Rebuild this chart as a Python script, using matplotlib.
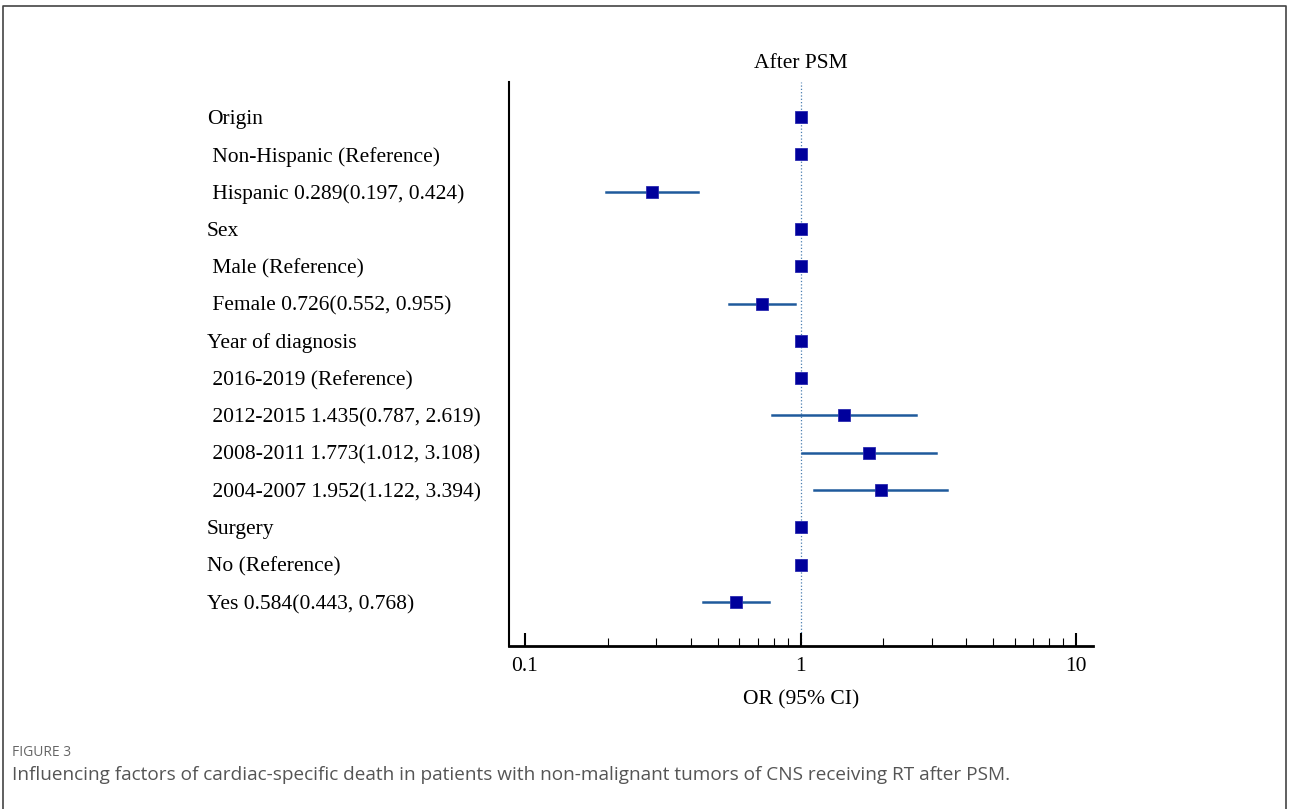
import numpy as np
import matplotlib.pyplot as plt
import matplotlib.transforms as mtransforms
from matplotlib.lines import Line2D
from matplotlib.ticker import FixedLocator, NullFormatter

# datos del forest plot (después de PSM)
labels = ["Origin",
          " Non-Hispanic (Reference)",
          " Hispanic 0.289(0.197, 0.424)",
          "Sex",
          " Male (Reference)",
          " Female 0.726(0.552, 0.955)",
          "Year of diagnosis",
          " 2016-2019 (Reference)",
          " 2012-2015 1.435(0.787, 2.619)",
          " 2008-2011 1.773(1.012, 3.108)",
          " 2004-2007 1.952(1.122, 3.394)",
          "Surgery",
          "No (Reference)",
          "Yes 0.584(0.443, 0.768)"]
OR    = [1, 1, 0.289, 1, 1, 0.726, 1, 1, 1.435, 1.773, 1.952, 1, 1, 0.584]
CI_lo = [np.nan, np.nan, 0.197, np.nan, np.nan, 0.552, np.nan, np.nan, 0.787, 1.012, 1.122, np.nan, np.nan, 0.443]
CI_hi = [np.nan, np.nan, 0.424, np.nan, np.nan, 0.955, np.nan, np.nan, 2.619, 3.108, 3.394, np.nan, np.nan, 0.768]

serif = 'Liberation Serif'
W, H = 1290, 809

fig = plt.figure(figsize=[W/100, H/100], dpi=100)
ax = fig.add_axes([509/W, 1-646/H, (1093-509)/W, (646-82)/H])

y = np.arange(1, len(labels)+1)

# línea de referencia en OR = 1
ax.axvline(1, color='#4a7fb0', linestyle=':', linewidth=0.9, zorder=1)

# intervalos de confianza
for yi, lo, hi in zip(y, CI_lo, CI_hi):
    if not np.isnan(lo):
        ax.plot([lo, hi], [yi, yi], '-', color='#1f5a9c', linewidth=1.8, zorder=2)

ax.plot(OR, y, 's', color='#00009c', markeredgecolor='#2a2ab0',
        markeredgewidth=0.6, markersize=8.6, zorder=3)

ax.set_xscale('log')
ax.set_xlim(10**(-1-16/275.5), 10**(1+17/275.5))
ax.set_ylim(14 + 44/37.31, 1 - 35/37.31)

ax.spines['top'].set_visible(False)
ax.spines['right'].set_visible(False)
ax.spines['left'].set_linewidth(1.5)
ax.spines['bottom'].set_linewidth(2.0)
ax.set_yticks([])

ax.xaxis.set_major_locator(FixedLocator([0.1, 1, 10]))
ax.set_xticklabels(['0.1', '1', '10'], fontfamily=serif, fontsize=15.5)
menores = [m * d for d in (0.1, 1) for m in range(2, 10)]
ax.xaxis.set_minor_locator(FixedLocator(menores))
ax.xaxis.set_minor_formatter(NullFormatter())
ax.tick_params(axis='x', which='major', direction='in', length=9.5, width=1.5, pad=8)
ax.tick_params(axis='x', which='minor', direction='in', length=5.5, width=0.8)

ax.set_xlabel('OR (95% CI)', fontfamily=serif, fontsize=15.5, labelpad=10)
ax.set_title('After PSM', fontfamily=serif, fontsize=15.5, pad=10)

# etiquetas a la izquierda
trans = mtransforms.blended_transform_factory(fig.transFigure, ax.transData)
for yi, lab in zip(y, labels):
    ax.text(207/W, yi, lab, transform=trans, ha='left', va='center_baseline',
            fontfamily=serif, fontsize=15.5)

# marco de la figura
fig.add_artist(Line2D([3/W, 3/W, 1286/W, 1286/W], [0, 1-6/H, 1-6/H, 0],
                      transform=fig.transFigure, color='#444444', linewidth=1.2))

# leyenda de la figura
fig.text(12/W, 1-752/H, 'FIGURE 3', fontfamily='Open Sans', fontsize=10,
         color='#666666', va='center', ha='left')
fig.text(12/W, 1-775/H,
         'Influencing factors of cardiac-specific death in patients with non-malignant tumors of CNS receiving RT after PSM.',
         fontfamily='Open Sans', fontsize=13.7, color='#555555', va='center', ha='left')

fig.savefig('out.png', dpi=100)
